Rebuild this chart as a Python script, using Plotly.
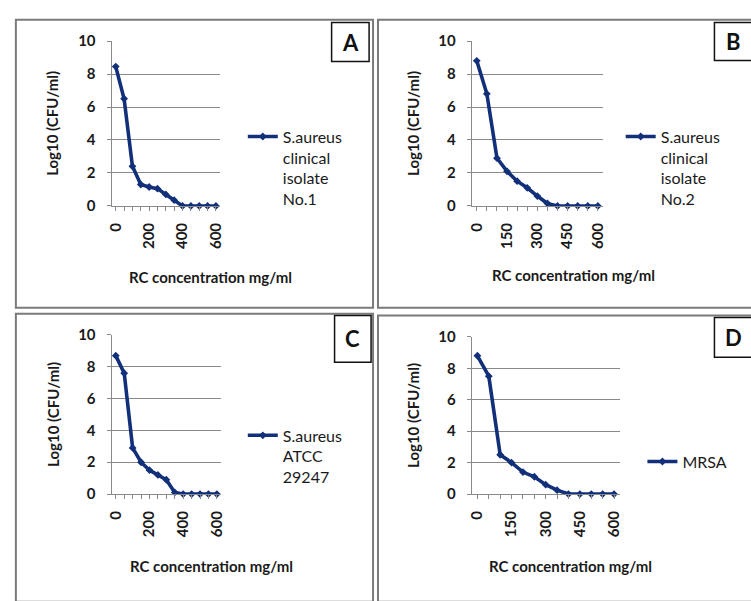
import plotly.graph_objects as go

# ---------------- data ----------------
conc = [0, 50, 100, 150, 200, 250, 300, 350, 400, 450, 500, 550, 600]
a_vals = [8.45, 6.5, 2.4, 1.3, 1.15, 1.05, 0.7, 0.35, 0, 0, 0, 0, 0]
b_vals = [8.8, 6.8, 2.9, 2.1, 1.5, 1.1, 0.6, 0.15, 0, 0, 0, 0, 0]
c_vals = [8.7, 7.6, 2.9, 2.0, 1.5, 1.2, 0.9, 0.1, 0, 0, 0, 0, 0]
d_vals = [8.8, 7.5, 2.5, 2.0, 1.4, 1.1, 0.6, 0.25, 0, 0, 0, 0, 0]
series_names = [
    "S.aureus<br>clinical<br>isolate<br>No.1",
    "S.aureus<br>clinical<br>isolate<br>No.2",
    "S.aureus<br>ATCC<br>29247",
    "MRSA",
]
panel_letters = ["A", "B", "C", "D"]
x_ticks_ac = [0, 200, 400, 600]
x_ticks_bd = [0, 150, 300, 450, 600]
y_ticks = [0, 2, 4, 6, 8, 10]
x_title = "RC concentration mg/ml"
y_title = "Log10 (CFU/ml)"

W, H = 751, 601
FONT = "Lato, 'Open Sans', sans-serif"
LINE = "#12307a"
GRID = "#8a8a8a"


def px(x):
    return x / W


def py(y):
    return 1 - y / H


# pixel layout of each panel: plot area (l, r, t, b), legend (x, y), titles, boxes
panels = [
    dict(vals=a_vals, ticks=x_ticks_ac, plot=(107, 217, 32, 202), leg=(240, 113),
         xt=(207, 275), yt=(47, 117), frame=(10, 372, 10, 307), box=(330, 368, 13, 53)),
    dict(vals=b_vals, ticks=x_ticks_bd, plot=(472, 605, 32, 202), leg=(623, 113),
         xt=(575, 273), yt=(413, 117), frame=(377, 760, 10, 307), box=(718, 760, 13, 52)),
    dict(vals=c_vals, ticks=x_ticks_ac, plot=(107, 218, 335, 499), leg=(240, 421),
         xt=(208, 573), yt=(47, 417), frame=(10, 372, 313, 610), box=(333, 370, 315, 363)),
    dict(vals=d_vals, ticks=x_ticks_bd, plot=(472, 622, 337, 499), leg=(645, 448),
         xt=(572, 573), yt=(413, 418), frame=(377, 760, 315, 610), box=(718, 760, 317, 358)),
]

fig = go.Figure()
layout = dict(
    width=W, height=H, margin=dict(l=0, r=0, t=0, b=0),
    paper_bgcolor="white", plot_bgcolor="white",
    font=dict(family=FONT, color="#1a1a1a"),
    showlegend=True,
)
shapes = []
annotations = []

for i, p in enumerate(panels):
    n = "" if i == 0 else str(i + 1)
    xa, ya = "x" + n, "y" + n
    leg = "legend" + n
    fig.add_trace(go.Scatter(
        x=conc, y=p["vals"], mode="lines+markers", name=series_names[i],
        line=dict(color=LINE, width=3.6),
        marker=dict(symbol="diamond", size=6, color=LINE),
        xaxis=xa, yaxis=ya, legend=leg, cliponaxis=False,
    ))
    l, r, t, b = p["plot"]
    layout["xaxis" + n] = dict(
        domain=[px(l), px(r)], anchor=ya, range=[-25, 625],
        tickvals=p["ticks"], tickangle=-90,
        tickfont=dict(size=15, family=FONT, weight="bold", color="#1a1a1a"),
        ticks="outside", ticklen=4, tickcolor=GRID,
        minor=dict(dtick=50, tick0=0, ticks="outside", ticklen=4, tickcolor=GRID),
        showline=True, linecolor=GRID, linewidth=1, showgrid=False, zeroline=False,
        ticklabelstandoff=6,
    )
    layout["yaxis" + n] = dict(
        domain=[py(b), py(t)], anchor=xa, range=[0, 10],
        tickvals=y_ticks,
        tickfont=dict(size=15, family=FONT, weight="bold", color="#1a1a1a"),
        ticks="outside", ticklen=4, tickcolor=GRID,
        showline=True, linecolor=GRID, linewidth=1,
        showgrid=True, gridcolor=GRID, gridwidth=1, zeroline=False,
        ticklabelstandoff=8,
    )
    lx, ly = p["leg"]
    layout[leg] = dict(
        x=px(lx), y=py(ly), xanchor="left", yanchor="top",
        bgcolor="rgba(0,0,0,0)", borderwidth=0, valign="top",
        font=dict(size=16, family=FONT, color="#1a1a1a"),
        tracegroupgap=0,
    )
    fl, fr, ft, fb = p["frame"]
    shapes.append(dict(type="rect", xref="paper", yref="paper",
                       x0=px(fl), x1=px(fr), y0=py(fb), y1=py(ft),
                       line=dict(color="#7a7a7a", width=2), layer="below"))
    bl, br, bt, bb = p["box"]
    shapes.append(dict(type="rect", xref="paper", yref="paper",
                       x0=px(bl), x1=px(br), y0=py(bb), y1=py(bt),
                       line=dict(color="#111111", width=1.5), fillcolor="white"))
    letter_x = (bl + br) / 2 if br <= W else bl + 19
    annotations.append(dict(
        text=panel_letters[i], xref="paper", yref="paper",
        x=px(letter_x), y=py((bt + bb) / 2), xanchor="center", yanchor="middle",
        showarrow=False, font=dict(size=22, family=FONT, weight="bold", color="#111111"),
    ))
    xtx, xty = p["xt"]
    annotations.append(dict(
        text=x_title, xref="paper", yref="paper", x=px(xtx), y=py(xty),
        xanchor="center", yanchor="middle",
        showarrow=False, font=dict(size=15, family=FONT, weight="bold", color="#1a1a1a"),
    ))
    ytx, yty = p["yt"]
    annotations.append(dict(
        text=y_title, xref="paper", yref="paper", x=px(ytx), y=py(yty),
        xanchor="center", yanchor="middle",
        textangle=-90, showarrow=False,
        font=dict(size=15, family=FONT, weight="bold", color="#1a1a1a"),
    ))

layout["shapes"] = shapes
layout["annotations"] = annotations
fig.update_layout(**layout)
fig.write_html(
    "out.html",
    config={"displayModeBar": False},
    post_script="document.body.style.margin='0';document.body.style.overflow='hidden';",
)
